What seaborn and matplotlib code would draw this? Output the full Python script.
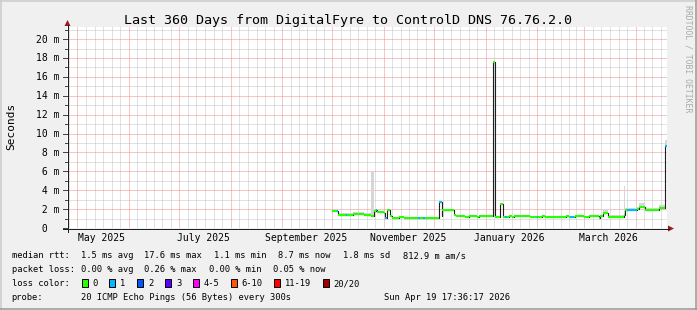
import numpy as np
import pandas as pd
import matplotlib
matplotlib.use("Agg")
import matplotlib.pyplot as plt
import matplotlib.dates as mdates
import matplotlib.transforms as mtrans
from matplotlib.patches import Rectangle, Polygon
from matplotlib.lines import Line2D
import seaborn as sns

W, H = 697, 310
MONO = "DejaVu Sans Mono"

title = "Last 360 Days from DigitalFyre to ControlD DNS 76.76.2.0"
y_label = "Seconds"
watermark = "RRDTOOL / TOBI OETIKER"

range_start = "2025-04-24 17:36:17"
range_end = "2026-04-19 17:36:17"

# median RTT as steps: start time, median (ms), loss class, top of smoke (ms)
seg_start = [
    "2025-09-30 12:00", "2025-10-03 12:00", "2025-10-04 12:00", "2025-10-09 00:00",
    "2025-10-10 00:00", "2025-10-13 12:00", "2025-10-19 18:00", "2025-10-24 06:00",
    "2025-10-26 00:00", "2025-10-27 00:00", "2025-10-28 00:00", "2025-10-31 18:00",
    "2025-11-01 18:00", "2025-11-02 18:00", "2025-11-04 18:00", "2025-11-05 18:00",
    "2025-11-09 18:00", "2025-11-12 18:00", "2025-11-21 12:00", "2025-11-22 12:00",
    "2025-11-24 12:00", "2025-11-25 12:00", "2025-12-03 18:00", "2025-12-05 12:00",
    "2025-12-06 00:00", "2025-12-13 00:00", "2025-12-14 06:00", "2025-12-19 12:00",
    "2025-12-22 00:00", "2025-12-26 18:00", "2025-12-28 00:00", "2026-01-05 06:00",
    "2026-01-06 18:00", "2026-01-09 18:00", "2026-01-11 06:00", "2026-01-12 12:00",
    "2026-01-13 12:00", "2026-01-14 18:00", "2026-01-16 18:00", "2026-01-17 18:00",
    "2026-01-27 18:00", "2026-01-31 12:00", "2026-02-01 12:00", "2026-02-03 18:00",
    "2026-02-05 18:00", "2026-02-18 06:00", "2026-02-19 18:00", "2026-02-20 12:00",
    "2026-02-23 00:00", "2026-02-23 18:00", "2026-02-28 18:00", "2026-03-03 18:00",
    "2026-03-09 18:00", "2026-03-10 12:00", "2026-03-12 12:00", "2026-03-15 06:00",
    "2026-03-24 18:00", "2026-03-25 18:00", "2026-03-26 18:00", "2026-04-01 18:00",
    "2026-04-02 18:00", "2026-04-06 18:00", "2026-04-07 18:00", "2026-04-14 18:00",
    "2026-04-18 18:00",
]
series_end = "2026-04-19 17:00"
seg_median = [
    1.80, 1.80, 1.33, 1.33, 1.33, 1.46, 1.40, 1.28,
    1.80, 1.86, 1.70, 1.55, 1.08, 1.95, 1.25, 1.08,
    1.20, 1.10, 1.10, 1.10, 1.10, 1.10, 2.80, 1.23,
    1.95, 1.35, 1.22, 1.12, 1.22, 1.12, 1.22, 17.60,
    1.15, 2.54, 1.12, 1.12, 1.12, 1.22, 1.12, 1.22,
    1.15, 1.12, 1.12, 1.22, 1.12, 1.27, 1.12, 1.12,
    1.12, 1.27, 1.12, 1.24, 1.06, 1.24, 1.55, 1.12,
    1.41, 1.93, 1.93, 2.00, 2.25, 1.93, 1.86, 2.15,
    8.70,
]
seg_loss = [
    0, 1, 0, 1, 0, 0, 0, 0,
    0, 1, 0, 0, 1, 0, 0, 0,
    0, 0, 1, 0, 1, 0, 1, 0,
    0, 0, 0, 0, 0, 0, 0, 0,
    0, 0, 0, 1, 0, 0, 0, 0,
    0, 1, 0, 0, 0, 0, 0, 1,
    0, 0, 0, 0, 0, 0, 0, 0,
    0, 0, 1, 0, 0, 0, 0, 0,
    1,
]
seg_smoke = [
    1.95, 1.95, 1.62, 1.62, 1.62, 1.65, 1.62, 6.00,
    1.95, 1.95, 1.80, 1.65, 1.20, 2.05, 1.35, 1.18,
    1.28, 1.18, 1.18, 1.18, 1.18, 1.18, 2.90, 1.30,
    2.05, 1.42, 1.30, 1.20, 1.30, 1.20, 1.30, 17.70,
    1.22, 2.62, 1.20, 1.20, 1.20, 1.30, 1.20, 1.30,
    1.22, 1.20, 1.20, 1.30, 1.20, 1.35, 1.20, 1.20,
    1.20, 1.35, 1.20, 1.32, 1.15, 1.32, 2.00, 1.40,
    4.47, 2.10, 2.10, 2.20, 2.64, 2.15, 2.15, 2.46,
    9.30,
]

y_ticks = [0, 2, 4, 6, 8, 10, 12, 14, 16, 18, 20]
y_tick_labels = [" 0  ", " 2 m", " 4 m", " 6 m", " 8 m", "10 m", "12 m", "14 m",
                 "16 m", "18 m", "20 m"]
x_label_dates = ["2025-05-15 12:00", "2025-07-15 12:00", "2025-09-15 12:00",
                 "2025-11-15 12:00", "2026-01-15 00:00", "2026-03-15 12:00"]
x_labels = ["May 2025", "July 2025", "September 2025", "November 2025",
            "January 2026", "March 2026"]

loss_names = ["0", "1", "2", "3", "4-5", "6-10", "11-19", "20/20"]
loss_colors = ["#26ff00", "#00b8ff", "#0059ff", "#5e00ff", "#ff00ff",
               "#ff5500", "#ff0000", "#a10000"]

rtt_stats = ["1.5 ms avg", "17.6 ms max", "1.1 ms min", "8.7 ms now",
             "1.8 ms sd", "812.9 m am/s"]
loss_stats = ["0.00 % avg", "0.26 % max", "0.00 % min", "0.05 % now"]
probe_text = "20 ICMP Echo Pings (56 Bytes) every 300s"
stamp_text = "Sun Apr 19 17:36:17 2026"

# ---------------------------------------------------------------- layout
def fx(px):
    return px / W


def fy(py):
    return 1 - py / H


plt.rcParams["font.family"] = [MONO, "DejaVu Sans"]
plt.rcParams["lines.scale_dashes"] = False
fig = plt.figure(figsize=(W / 100, H / 100), dpi=100)
fig.patch.set_facecolor("#f0f0f0")

ax_left, ax_right, ax_top, ax_bottom = 67.0, 667.0, 27.0, 228.0
ax = fig.add_axes([fx(ax_left), fy(ax_bottom), (ax_right - ax_left) / W,
                   (ax_bottom - ax_top) / H])
ax.set_facecolor("white")
for s in ax.spines.values():
    s.set_visible(False)

x0 = mdates.date2num(pd.Timestamp(range_start))
x1 = mdates.date2num(pd.Timestamp(range_end))
ymax = 21.28
ax.set_xlim(x0, x1)
ax.set_ylim(0, ymax)
ax.set_xticks([])
ax.set_yticks([])

# ---------------------------------------------------------------- grid
MAJ = "#ef8c8c"
MIN = "#c4c4c4"
PX = 0.72
dot = (0, (PX, PX))
gkw = dict(lw=PX, ls=dot, antialiased=True, snap=True)
months = pd.date_range("2025-04-01", "2026-05-01", freq="MS")
for a, b in zip(months[:-1], months[1:]):
    na, nb = mdates.date2num(a), mdates.date2num(b)
    for k in range(1, 6):
        xm = na + (nb - na) * k / 6
        if x0 < xm < x1:
            ax.axvline(xm, color=MIN, zorder=0.4, **gkw)
    if x0 < na < x1:
        ax.axvline(na, color=MAJ, zorder=0.5, **gkw)
for v in range(1, 22, 2):
    ax.axhline(v, color=MIN, zorder=0.4, **gkw)
for v in y_ticks[1:]:
    ax.axhline(v, color=MAJ, zorder=0.5, **gkw)

# ---------------------------------------------------------------- data
t_start = mdates.date2num(pd.to_datetime(seg_start))
t_end = np.append(t_start[1:], mdates.date2num(pd.Timestamp(series_end)))
med = np.array(seg_median)
smoke = np.array(seg_smoke)

xs = np.append(t_start, t_end[-1])
ax.fill_between(xs, np.append(med, med[-1]), np.append(smoke, smoke[-1]),
                step="post", color="#d6d6d6", lw=0, zorder=1)

step_df = pd.DataFrame({"t": xs, "ms": np.append(med, med[-1])})
sns.lineplot(data=step_df, x="t", y="ms", drawstyle="steps-post", color="#202020",
             lw=0.8, estimator=None, sort=False, ax=ax, zorder=2)

rows = []
for i, (a, b, v, l) in enumerate(zip(t_start, t_end, med, seg_loss)):
    rows.append((a, v, i, loss_names[l]))
    rows.append((b, v, i, loss_names[l]))
seg_df = pd.DataFrame(rows, columns=["t", "ms", "seg", "loss"])
sns.lineplot(data=seg_df, x="t", y="ms", units="seg", estimator=None, hue="loss",
             palette=dict(zip(loss_names, loss_colors)), lw=1.5, sort=False,
             legend=False, ax=ax, zorder=3, solid_capstyle="butt")
ax.set_xlabel("")
ax.set_ylabel("")
ax.set_xlim(x0, x1)
ax.set_ylim(0, ymax)

# ---------------------------------------------------------------- axes, ticks
AX = "#202020"
ARROW = "#9a1a1a"
fig.add_artist(Line2D([fx(ax_left + 0.5), fx(ax_left + 0.5)], [fy(232), fy(25)],
                      color=AX, lw=0.72))
fig.add_artist(Line2D([fx(63), fx(669)], [fy(ax_bottom + 0.5), fy(ax_bottom + 0.5)],
                      color=AX, lw=0.72))
fig.add_artist(Polygon([[fx(ax_left - 2.5), fy(26)], [fx(ax_left + 3.5), fy(26)],
                        [fx(ax_left + 0.5), fy(20)]], closed=True, color=ARROW, lw=0))
fig.add_artist(Polygon([[fx(668), fy(ax_bottom - 2.5)], [fx(668), fy(ax_bottom + 3.5)],
                        [fx(674), fy(ax_bottom + 0.5)]], closed=True, color=ARROW, lw=0))

ytrans = mtrans.blended_transform_factory(fig.transFigure, ax.transData)
for v in range(0, 22):
    ln = 4 if v % 2 == 0 else 2
    ax.add_line(Line2D([fx(ax_left - ln), fx(ax_left)], [v, v], transform=ytrans,
                       color="#404040", lw=0.7, clip_on=False, snap=True))
lab_trans = mtrans.offset_copy(ytrans, fig=fig, x=0, y=-3.5, units="dots")
for v, lab in zip(y_ticks, y_tick_labels):
    ax.text(fx(36), v, lab, transform=lab_trans, ha="left", va="baseline",
            fontsize=7, family=MONO, color="#000000", clip_on=False)

xtrans = mtrans.blended_transform_factory(ax.transData, fig.transFigure)
for d, lab in zip(x_label_dates, x_labels):
    ax.text(mdates.date2num(pd.Timestamp(d)), fy(240.7), lab, transform=xtrans,
            ha="center", va="baseline", fontsize=7, family=MONO, clip_on=False)

# ---------------------------------------------------------------- texts
fig.text(fx(348.5), fy(24), title, ha="center", va="baseline", fontsize=9.6, family=MONO)
fig.text(fx(11), fy(126.5), y_label, rotation=90, ha="center", va="center",
         fontsize=8, family=MONO)
fig.text(fx(688), fy(59), watermark, rotation=270, ha="center", va="center",
         fontsize=5.9, family=MONO, color="#aaaaaa")

LF = 6.3
b1, b2, b3, b4 = 258.3, 272.3, 286.3, 300.0
fig.text(fx(11.7), fy(b1), "median rtt:", fontsize=LF, family=MONO, va="baseline")
for xp, s in zip([80.7, 144.3, 214.3, 278.3, 343.3, 402.7], rtt_stats):
    fig.text(fx(xp), fy(b1), s, fontsize=LF, family=MONO, va="baseline")
fig.text(fx(11.7), fy(b2), "packet loss:", fontsize=LF, family=MONO, va="baseline")
for xp, s in zip([80.7, 144.3, 209.0, 273.3], loss_stats):
    fig.text(fx(xp), fy(b2), s, fontsize=LF, family=MONO, va="baseline")
fig.text(fx(11.7), fy(b3), "loss color:", fontsize=LF, family=MONO, va="baseline")
for xb, name, col in zip([81.7, 109.3, 137.0, 165.0, 192.7, 230.7, 274.0, 322.7],
                         loss_names, loss_colors):
    fig.add_artist(Rectangle((fx(xb), fy(b3 + 0.5)), 6 / W, 8 / H,
                             transform=fig.transFigure, facecolor=col,
                             edgecolor="black", lw=0.7))
    fig.text(fx(xb + 11), fy(b3), name, fontsize=LF, family=MONO, va="baseline")
fig.text(fx(11.7), fy(b4), "probe:", fontsize=LF, family=MONO, va="baseline")
fig.text(fx(80.7), fy(b4), probe_text, fontsize=LF, family=MONO, va="baseline")
fig.text(fx(510), fy(b4), stamp_text, fontsize=LF, family=MONO, va="baseline", ha="right")

# border
fig.add_artist(Line2D([0, 1], [fy(0.75), fy(0.75)], color="#cbcbcb", lw=1.1))
fig.add_artist(Line2D([fx(0.75), fx(0.75)], [0, 1], color="#cbcbcb", lw=1.1))
fig.add_artist(Line2D([0, 1], [fy(309.25), fy(309.25)], color="#999999", lw=1.1))
fig.add_artist(Line2D([fx(696.25), fx(696.25)], [0, 1], color="#999999", lw=1.1))

fig.savefig("out.png", dpi=100, facecolor=fig.get_facecolor())
